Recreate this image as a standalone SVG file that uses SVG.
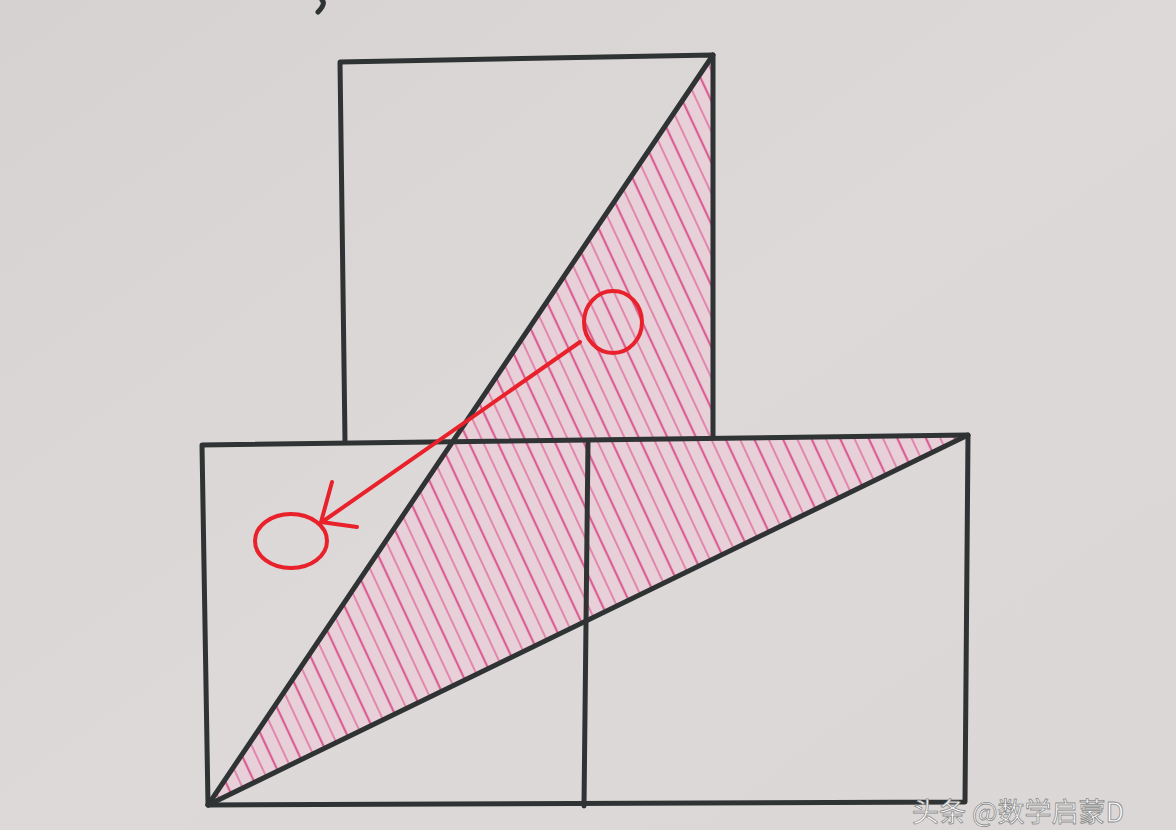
<svg xmlns="http://www.w3.org/2000/svg" width="1176" height="830" viewBox="0 0 1176 830">
<defs>
<linearGradient id="paper" x1="0" y1="0" x2="1" y2="1">
<stop offset="0" stop-color="#d5d2d1"/>
<stop offset="0.5" stop-color="#dcd9d8"/>
<stop offset="1" stop-color="#dad7d6"/>
</linearGradient>
<pattern id="hatch" patternUnits="userSpaceOnUse" width="26" height="40" patternTransform="rotate(-25)">
<rect width="26" height="40" fill="#e7d0d8"/>
<line x1="4" y1="0" x2="4" y2="40" stroke="#d84a86" stroke-width="2.2" stroke-opacity="0.85"/>
<line x1="17" y1="0" x2="17" y2="40" stroke="#df6296" stroke-width="1.8" stroke-opacity="0.75"/>
</pattern>
<style>
.ink{fill:none;stroke:#2f3333;stroke-width:5;stroke-linecap:round;stroke-linejoin:round}
.red{fill:none;stroke:#e8212b;stroke-width:4;stroke-linecap:round;stroke-linejoin:round}
.wm{font-family:"Noto Sans CJK SC","Noto Sans",sans-serif;font-size:27px;fill:#ffffff;stroke:#8a8a8a;stroke-width:0.8}
</style>
</defs>
<rect width="1176" height="830" fill="url(#paper)"/>
<g id="shaded">
<polygon points="208,805 713,55 713,437 968,435" fill="url(#hatch)"/>
</g>
<g id="top-square">
<polyline class="ink" points="345,441 340,62 713,55 713,437"/>
</g>
<g id="bottom-rectangle">
<polygon class="ink" points="202,445 968,435 965,802 208,805"/>
<line class="ink" x1="588" y1="441" x2="584" y2="806"/>
</g>
<g id="connectors">
<line class="ink" x1="208" y1="805" x2="713" y2="55" stroke-width="4"/>
<line class="ink" x1="208" y1="805" x2="968" y2="435" stroke-width="4"/>
<path class="ink" d="M318,12 Q326,4 322,0" stroke-width="3"/>
</g>
<g id="annotation">
<ellipse class="red" cx="613" cy="322" rx="29" ry="31"/>
<ellipse class="red" cx="291" cy="541" rx="36" ry="27"/>
<line class="red" x1="580" y1="342" x2="322" y2="522"/>
<polyline class="red" points="332,482 321,522 357,527"/>
</g>
<text class="wm" x="912" y="822">头条 @数学启蒙D</text>
</svg>
